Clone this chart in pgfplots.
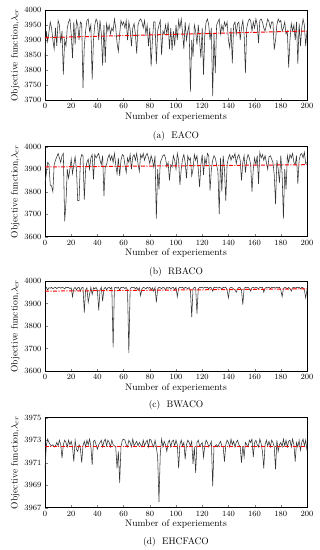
\documentclass[border=0pt]{standalone}
\usepackage{pgfplots}
\usepackage{pgfplotstable}
\pgfplotsset{compat=1.18}

\pgfplotstableread[row sep=\\]{y\\
3840\\3930\\3895\\3925\\3960\\3940\\3900\\3870\\3940\\3880\\3965\\3950\\3890\\3930\\3785\\3900\\3880\\3940\\3960\\3970\\
3920\\3840\\3960\\3885\\3965\\3950\\3900\\3960\\3955\\3740\\3880\\3930\\3965\\3970\\3930\\3950\\3768\\3900\\3950\\3970\\
3960\\3900\\3965\\3920\\3815\\3950\\3825\\3955\\3930\\3950\\3920\\3940\\3930\\3970\\3940\\3890\\3862\\3920\\3965\\3950\\
3960\\3940\\3965\\3900\\3960\\3935\\3880\\3940\\3955\\3920\\3855\\3950\\3965\\3970\\3960\\3940\\3965\\3920\\3950\\3880\\
3940\\3812\\3900\\3960\\3960\\3820\\3930\\3950\\3965\\3850\\3930\\3920\\3950\\3920\\3960\\3870\\3940\\3865\\3930\\3880\\
3950\\3900\\3965\\3940\\3970\\3925\\3870\\3960\\3900\\3930\\3950\\3728\\3900\\3845\\3950\\3930\\3885\\3950\\3900\\3840\\
3940\\3785\\3920\\3960\\3970\\3950\\3900\\3940\\3713\\3920\\3790\\3950\\3960\\3970\\3920\\3950\\3930\\3960\\3945\\3960\\
3900\\3875\\3940\\3822\\3950\\3960\\3920\\3955\\3960\\3900\\3940\\3965\\3920\\3790\\3940\\3960\\3970\\3965\\3930\\3960\\
3940\\3970\\3950\\3890\\3965\\3970\\3960\\3940\\3930\\3950\\3970\\3960\\3940\\3960\\3960\\3868\\3900\\3950\\3970\\3960\\
3965\\3930\\3940\\3960\\3920\\3930\\3808\\3900\\3955\\3930\\3950\\3900\\3960\\3820\\3955\\3880\\3940\\3970\\3950\\3880\\
3930\\}\tA

\pgfplotstableread[row sep=\\]{y\\
3840\\3880\\3930\\3925\\3830\\3825\\3800\\3920\\3940\\3955\\3970\\3950\\3930\\3960\\3970\\3668\\3750\\3900\\3860\\3900\\
3945\\3880\\3920\\3955\\3900\\3760\\3760\\3940\\3965\\3960\\3765\\3900\\3930\\3945\\3900\\3950\\3965\\3855\\3965\\3950\\
3960\\3970\\3940\\3920\\3960\\3780\\3910\\3920\\3950\\3965\\3940\\3960\\3930\\3970\\3920\\3880\\3950\\3870\\3940\\3965\\
3960\\3920\\3885\\3950\\3930\\3965\\3900\\3955\\3965\\3940\\3970\\3925\\3890\\3965\\3950\\3970\\3940\\3960\\3970\\3950\\
3925\\3960\\3940\\3910\\3960\\3680\\3900\\3810\\3930\\3945\\3960\\3965\\3950\\3910\\3930\\3850\\3920\\3910\\3960\\3940\\
3900\\3970\\3940\\3830\\3900\\3945\\3965\\3930\\3860\\3960\\3940\\3950\\3870\\3900\\3965\\3940\\3960\\3900\\3820\\3920\\
3965\\3875\\3950\\3920\\3970\\3960\\3805\\3900\\3940\\3960\\3950\\3920\\3890\\3700\\3950\\3800\\3960\\3900\\3760\\3920\\
3950\\3965\\3940\\3960\\3950\\3970\\3925\\3955\\3965\\3940\\3850\\3930\\3960\\3885\\3940\\3965\\3950\\3920\\3800\\3900\\
3950\\3920\\3960\\3835\\3975\\3950\\3965\\3940\\3960\\3930\\3900\\3955\\3960\\3945\\3930\\3875\\3745\\3940\\3900\\3840\\
3960\\3880\\3680\\3900\\3810\\3960\\3930\\3965\\3950\\3970\\3930\\3920\\3960\\3835\\3940\\3965\\3970\\3950\\3975\\3925\\
3930\\}\tB

\pgfplotstableread[row sep=\\]{y\\
3965\\3972\\3960\\3970\\3968\\3972\\3965\\3970\\3972\\3966\\3971\\3972\\3968\\3972\\3970\\3965\\3972\\3971\\3972\\3966\\
3970\\3930\\3965\\3972\\3960\\3970\\3972\\3955\\3970\\3972\\3860\\3960\\3970\\3905\\3940\\3972\\3940\\3970\\3965\\3972\\
3960\\3870\\3960\\3972\\3910\\3965\\3972\\3960\\3970\\3972\\3965\\3972\\3705\\3970\\3972\\3968\\3972\\3960\\3972\\3970\\
3972\\3966\\3972\\3960\\3680\\3965\\3972\\3970\\3972\\3965\\3972\\3960\\3970\\3935\\3965\\3972\\3970\\3965\\3972\\3968\\
3972\\3960\\3970\\3955\\3972\\3905\\3965\\3972\\3970\\3966\\3972\\3970\\3960\\3972\\3968\\3972\\3965\\3970\\3972\\3960\\
3972\\3930\\3968\\3972\\3970\\3972\\3966\\3972\\3970\\3965\\3972\\3960\\3840\\3965\\3972\\3970\\3855\\3965\\3972\\3970\\
3972\\3968\\3972\\3970\\3972\\3966\\3972\\3970\\3955\\3972\\3970\\3972\\3968\\3972\\3970\\3965\\3972\\3970\\3972\\3960\\
3925\\3968\\3972\\3970\\3965\\3960\\3950\\3965\\3972\\3970\\3960\\3895\\3968\\3972\\3970\\3972\\3966\\3955\\3970\\3972\\
3968\\3972\\3970\\3965\\3972\\3970\\3972\\3950\\3968\\3972\\3970\\3972\\3966\\3972\\3970\\3972\\3968\\3972\\3970\\3972\\
3960\\3930\\3965\\3972\\3970\\3965\\3972\\3966\\3955\\3970\\3972\\3968\\3972\\3970\\3972\\3966\\3972\\3970\\3960\\3925\\
3960\\}\tC

\pgfplotstableread[row sep=\\]{y\\
3970.4\\3972.5\\3973.1\\3972.8\\3972.6\\3972.5\\3972.6\\3972.4\\3972.5\\3972.8\\3972.5\\3973.0\\3972.6\\3971.4\\3972.6\\3973.0\\3972.8\\3972.4\\3973.0\\3972.6\\
3972.9\\3972.4\\3971.1\\3973.0\\3972.2\\3972.0\\3972.6\\3972.3\\3971.0\\3972.5\\3972.9\\3972.4\\3973.0\\3972.6\\3973.1\\3972.5\\3970.8\\3972.9\\3973.0\\3972.6\\
3972.2\\3972.6\\3972.8\\3973.0\\3972.4\\3972.9\\3973.1\\3972.5\\3973.0\\3972.8\\3972.4\\3973.0\\3972.6\\3972.5\\3972.4\\3970.5\\3972.0\\3969.2\\3972.4\\3973.0\\
3973.1\\3973.0\\3972.6\\3972.4\\3973.0\\3972.8\\3972.4\\3973.1\\3972.5\\3972.7\\3972.9\\3972.5\\3972.8\\3972.6\\3972.4\\3973.0\\3972.5\\3972.8\\3973.0\\3972.4\\
3973.1\\3973.0\\3972.6\\3972.4\\3973.0\\3972.4\\3971.5\\3967.5\\3971.8\\3973.1\\3972.4\\3972.9\\3972.6\\3972.0\\3972.8\\3973.0\\3972.4\\3972.9\\3973.0\\3972.5\\
3973.0\\3972.6\\3970.5\\3972.6\\3973.0\\3972.5\\3972.8\\3971.3\\3972.6\\3973.0\\3972.8\\3972.5\\3972.9\\3970.9\\3972.4\\3970.1\\3972.8\\3973.0\\3972.5\\3972.6\\
3972.8\\3971.5\\3972.5\\3973.0\\3972.8\\3972.4\\3972.6\\3972.9\\3968.9\\3972.4\\3972.5\\3972.6\\3972.4\\3972.7\\3972.9\\3972.5\\3972.4\\3971.1\\3972.6\\3973.0\\
3972.8\\3972.4\\3973.1\\3972.6\\3972.9\\3972.4\\3972.8\\3973.0\\3972.6\\3972.4\\3971.0\\3972.5\\3971.5\\3972.8\\3972.6\\3972.4\\3973.0\\3972.8\\3973.1\\3971.5\\
3972.8\\3973.0\\3972.6\\3972.4\\3973.1\\3972.7\\3972.0\\3970.5\\3972.6\\3973.0\\3972.5\\3972.9\\3972.4\\3973.0\\3972.8\\3972.4\\3970.4\\3973.0\\3972.0\\3972.6\\
3972.8\\3972.4\\3973.1\\3972.5\\3973.0\\3972.4\\3972.9\\3973.0\\3972.4\\3973.1\\3972.6\\3971.1\\3972.8\\3972.4\\3973.0\\3972.1\\3972.8\\3973.1\\3972.5\\3973.0\\
3972.1\\}\tD

\pgfplotsset{
  panel/.style={
    scale only axis, width=262pt, height=90pt,
    anchor=north west,
    xmin=0, xmax=200, xtick={0,20,...,200},
    tick pos=left,
    major tick length=2.5pt,
    tick label style={font=\fontsize{8.5}{9}\selectfont, black},
    label style={font=\fontsize{9.5}{10}\selectfont},
    /pgf/number format/set thousands separator={},
    xlabel={Number of experiements},
    ylabel={Objective function,$\lambda_{cr}$},
    xlabel style={yshift=3pt},
    ylabel style={yshift=-2pt},
    axis line style={black, line width=0.6pt},
    clip=true,
  },
  series/.style={black!80, line width=0.55pt, mark=none},
  trend/.style={red, dash pattern=on 4pt off 1.5pt on 1pt off 1.5pt, line width=1pt, mark=none},
}

\begin{document}
\begin{tikzpicture}
\useasboundingbox (0,0) rectangle (320pt,-550pt);

\begin{axis}[panel, at={(45pt,-10pt)}, ymin=3700, ymax=4000, ytick={3700,3750,...,4000}, name=a]
\addplot[series] table[x expr=\coordindex, y=y] {\tA};
\addplot[trend] coordinates {(0,3908) (200,3930)};
\end{axis}
\node[font=\fontsize{9.5}{10}\selectfont] at (176pt,-136pt) {(a)\ \ EACO};

\begin{axis}[panel, at={(45pt,-146.7pt)}, ymin=3600, ymax=4000, ytick={3600,3700,...,4000}, name=b]
\addplot[series] table[x expr=\coordindex, y=y] {\tB};
\addplot[trend] coordinates {(0,3910) (200,3920)};
\end{axis}
\node[font=\fontsize{9.5}{10}\selectfont] at (176pt,-272pt) {(b)\ \ RBACO};

\begin{axis}[panel, at={(45pt,-281pt)}, ymin=3600, ymax=4000, ytick={3600,3700,...,4000}, name=c]
\addplot[series] table[x expr=\coordindex, y=y] {\tC};
\addplot[trend] coordinates {(0,3955) (200,3965)};
\end{axis}
\node[font=\fontsize{9.5}{10}\selectfont] at (176pt,-405pt) {(c)\ \ BWACO};

\begin{axis}[panel, at={(45pt,-417.7pt)}, ymin=3967, ymax=3975, ytick={3967,3969,...,3975}, name=d]
\addplot[series] table[x expr=\coordindex, y=y] {\tD};
\addplot[trend] coordinates {(0,3972.4) (200,3972.4)};
\end{axis}
\node[font=\fontsize{9.5}{10}\selectfont] at (176pt,-542pt) {(d)\ \ EHCFACO};
\end{tikzpicture}
\end{document}
